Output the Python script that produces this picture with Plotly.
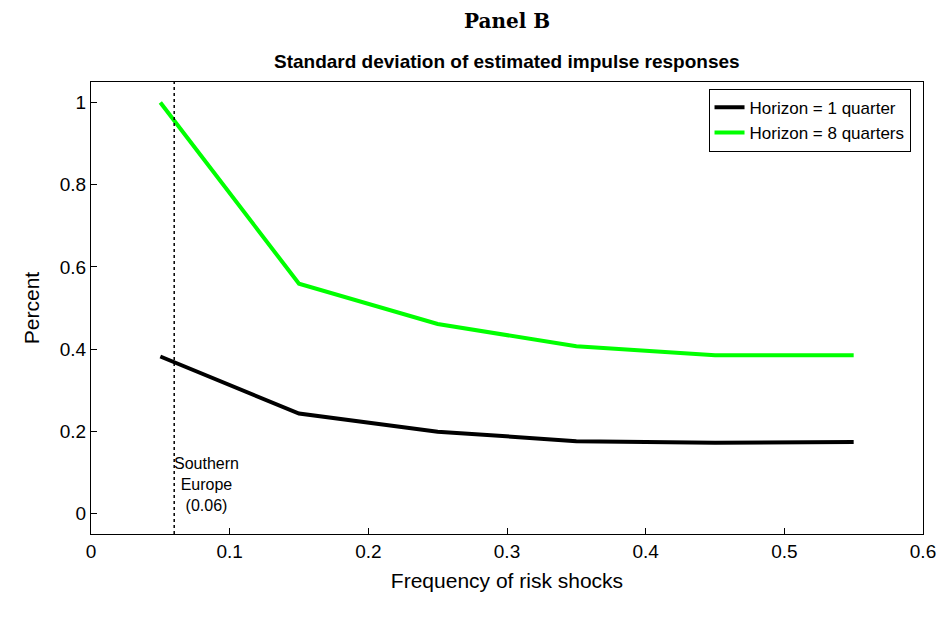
import plotly.graph_objects as go

freq = [0.05, 0.15, 0.25, 0.35, 0.45, 0.55]
h1 = [0.382, 0.243, 0.199, 0.176, 0.172, 0.174]
h8 = [1.0, 0.559, 0.461, 0.407, 0.385, 0.385]
xticks = [0, 0.1, 0.2, 0.3, 0.4, 0.5, 0.6]
yticks = [0, 0.2, 0.4, 0.6, 0.8, 1]

fig = go.Figure()
fig.add_trace(go.Scatter(x=freq, y=h1, mode="lines", name="Horizon = 1 quarter",
                         line=dict(color="black", width=4)))
fig.add_trace(go.Scatter(x=freq, y=h8, mode="lines", name="Horizon = 8 quarters",
                         line=dict(color="#00ff00", width=4)))
fig.add_shape(type="line", x0=0.06, x1=0.06, y0=-0.05, y1=1.05, xref="x", yref="y",
              line=dict(color="black", width=1.5, dash="dot"))
fig.add_annotation(x=0.083, y=0.07, text="Southern<br>Europe<br>(0.06)", showarrow=False,
                   font=dict(size=16, color="black"), align="center")
fig.add_annotation(x=0.5, y=1, xref="paper", yref="paper", yshift=61, yanchor="middle",
                   text="<b>Panel B</b>", showarrow=False,
                   font=dict(family="DejaVu Serif", size=20, color="black"))
fig.add_annotation(x=0.5, y=1, xref="paper", yref="paper", yshift=21, yanchor="middle",
                   text="<b>Standard deviation of estimated impulse responses</b>", showarrow=False,
                   font=dict(size=19, color="black"))
axis = dict(showline=True, mirror=True, linecolor="black", linewidth=1, ticks="inside",
            ticklen=6, tickcolor="black", showgrid=False, zeroline=False,
            tickfont=dict(size=19, color="black"))
fig.update_layout(
    width=940, height=609, autosize=False, paper_bgcolor="white", plot_bgcolor="white",
    font=dict(family="Liberation Sans, Arial", color="black"),
    margin=dict(l=83, r=19, t=74, b=83),
    xaxis=dict(range=[0, 0.6], tickvals=xticks, ticktext=[f"{v:g}" for v in xticks],
               title=dict(text="Frequency of risk shocks", font=dict(size=21), standoff=12), **axis),
    yaxis=dict(range=[-0.05, 1.05], tickvals=yticks, ticktext=[f"{v:g}" for v in yticks],
               title=dict(text="Percent", font=dict(size=21), standoff=14), **axis),
    legend=dict(x=0.985, y=0.985, xanchor="right", yanchor="top", bgcolor="white",
                bordercolor="black", borderwidth=1, font=dict(size=17)),
    showlegend=True,
)
fig.write_html("out.html")
